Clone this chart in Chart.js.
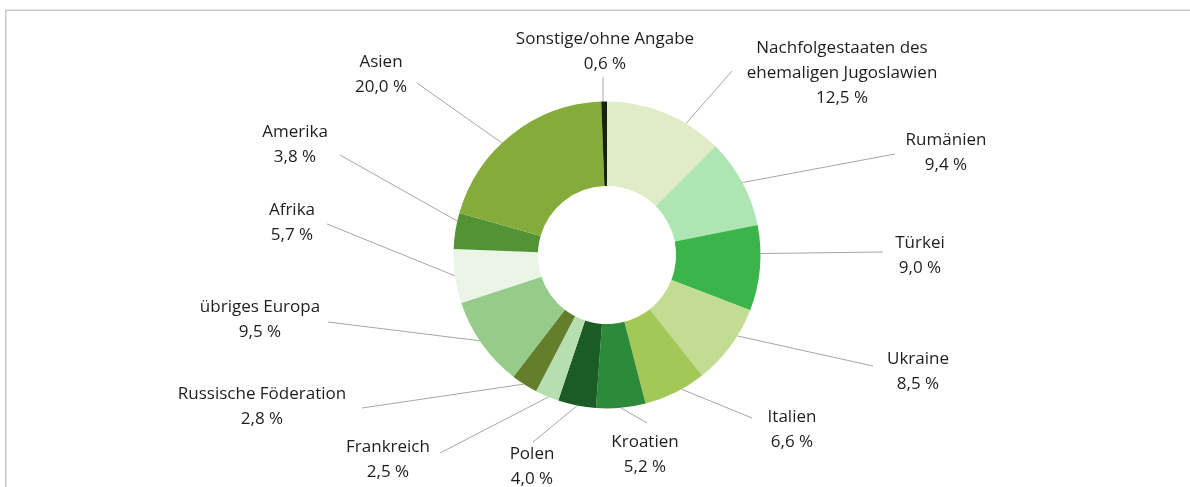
<!DOCTYPE html>
<html>
<head>
<meta charset="utf-8">
<script src="https://cdn.jsdelivr.net/npm/chart.js@4.4.0/dist/chart.umd.min.js"></script>
<style>
  html, body { margin: 0; padding: 0; background: #fff; }
  #wrap { position: relative; width: 1190px; height: 487px; }
</style>
</head>
<body>
<div id="wrap"><canvas id="c" width="1190" height="487"></canvas></div>
<script>
// ---- Data ----
const categories = [
  ["Nachfolgestaaten des", "ehemaligen Jugoslawien"],
  ["Rumänien"],
  ["Türkei"],
  ["Ukraine"],
  ["Italien"],
  ["Kroatien"],
  ["Polen"],
  ["Frankreich"],
  ["Russische Föderation"],
  ["übriges Europa"],
  ["Afrika"],
  ["Amerika"],
  ["Asien"],
  ["Sonstige/ohne Angabe"]
];
const shares = [12.5, 9.4, 9.0, 8.5, 6.6, 5.2, 4.0, 2.5, 2.8, 9.5, 5.7, 3.8, 20.0, 0.6];
const valueLabels = ["12,5 %", "9,4 %", "9,0 %", "8,5 %", "6,6 %", "5,2 %", "4,0 %", "2,5 %", "2,8 %", "9,5 %", "5,7 %", "3,8 %", "20,0 %", "0,6 %"];

// ---- Styles / layout ----
const sliceColors = ["#e0ecc8", "#ade5b3", "#3bb54a", "#c2dc92", "#a3c858", "#2c8a3a", "#1b5c25",
                     "#b6deb0", "#637f2b", "#96cb89", "#eaf4e7", "#529435", "#85ab3a", "#13240f"];
// label center x, first baseline y, leader start (ax, ay), leader target fraction within slice
const labelLayout = [
  {x: 842, y: 53,  ax: 732, ay: 71,  t: 0.69},
  {x: 946, y: 145, ax: 895, ay: 154, t: 0.50},
  {x: 920, y: 248, ax: 883, ay: 252, t: 0.33},
  {x: 918, y: 364, ax: 873, ay: 366, t: 0.35},
  {x: 792, y: 422, ax: 752, ay: 418, t: 0.39},
  {x: 645, y: 447, ax: 647, ay: 423, t: 0.50},
  {x: 532, y: 459, ax: 533, ay: 442, t: 0.49},
  {x: 388, y: 452, ax: 440, ay: 453, t: 0.43},
  {x: 262, y: 399, ax: 362, ay: 408, t: 0.52},
  {x: 260, y: 312, ax: 328, ay: 322, t: 0.54},
  {x: 292, y: 215, ax: 327, ay: 224, t: 0.51},
  {x: 295, y: 137, ax: 340, ay: 155, t: 0.77},
  {x: 381, y: 67,  ax: 417, ay: 83,  t: 0.43},
  {x: 605, y: 44,  ax: 603, ay: 77,  t: 0.30}
];
const FONT = "17px 'Liberation Sans Narrow', 'Open Sans', sans-serif";
const LINE_H = 25;

const labelPlugin = {
  id: 'outerLabels',
  beforeDraw(chart) {
    const ctx = chart.ctx;
    ctx.save();
    ctx.strokeStyle = '#c8c8c8';
    ctx.lineWidth = 1.5;
    ctx.beginPath();
    ctx.moveTo(5.75, 487);
    ctx.lineTo(5.75, 10.25);
    ctx.lineTo(1190, 10.25);
    ctx.stroke();
    ctx.restore();
  },
  afterDraw(chart) {
    const ctx = chart.ctx;
    const meta = chart.getDatasetMeta(0);
    ctx.save();
    meta.data.forEach((arc, i) => {
      const L = labelLayout[i];
      const p = arc.getProps(['x', 'y', 'startAngle', 'endAngle', 'outerRadius'], true);
      const a = p.startAngle + L.t * (p.endAngle - p.startAngle);
      const ex = p.x + p.outerRadius * Math.cos(a);
      const ey = p.y + p.outerRadius * Math.sin(a);
      ctx.strokeStyle = '#a6a6a6';
      ctx.lineWidth = 1;
      ctx.beginPath();
      ctx.moveTo(L.ax, L.ay);
      ctx.lineTo(ex, ey);
      ctx.stroke();
      const lines = categories[i].concat([valueLabels[i]]);
      ctx.fillStyle = '#1e1e1e';
      ctx.font = FONT;
      ctx.textAlign = 'center';
      ctx.textBaseline = 'alphabetic';
      lines.forEach((s, k) => ctx.fillText(s, L.x, L.y + k * LINE_H));
    });
    ctx.restore();
  }
};

new Chart(document.getElementById('c'), {
  type: 'doughnut',
  data: {
    labels: categories.map(c => c.join(' ')),
    datasets: [{
      data: shares,
      backgroundColor: sliceColors,
      borderWidth: 0,
      hoverOffset: 0
    }]
  },
  options: {
    responsive: false,
    animation: false,
    cutout: '45%',
    layout: { padding: { top: 101.5, bottom: 78.5, left: 300, right: 276 } },
    plugins: { legend: { display: false }, tooltip: { enabled: false } },
    events: []
  },
  plugins: [labelPlugin]
});
</script>
</body>
</html>
